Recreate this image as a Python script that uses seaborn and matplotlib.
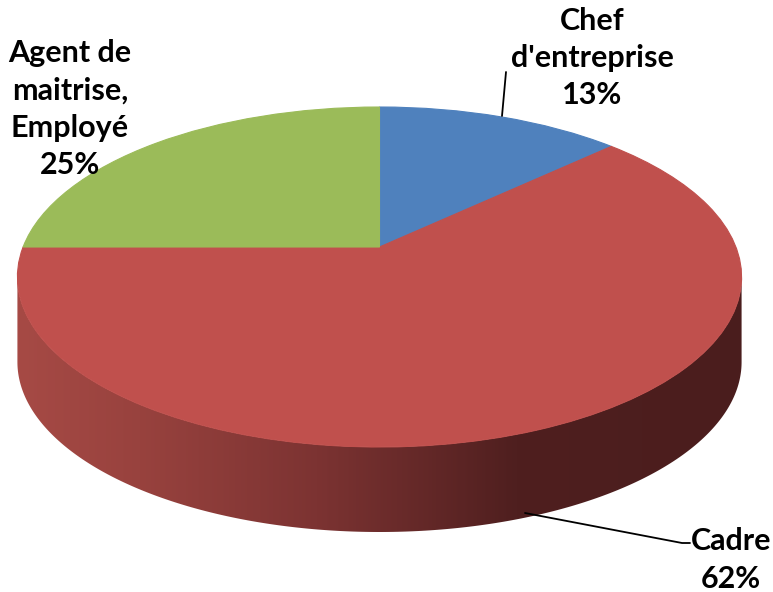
import numpy as np
import matplotlib.pyplot as plt
import seaborn as sns
from matplotlib.patches import Polygon
from matplotlib.lines import Line2D
from matplotlib.transforms import Transform
from matplotlib.colors import LinearSegmentedColormap

# Data
labels = ["Chef\nd'entreprise", "Cadre", "Agent de\nmaitrise,\nEmployé"]
shares = [13, 62, 25]
colors = ["#4F81BD", "#C0504D", "#9BBB59"]

W, H = 773, 592

sns.set_theme(style="white")
plt.rcParams['font.family'] = ['Lato', 'DejaVu Sans']

fig = plt.figure(figsize=(W / 100, H / 100), dpi=100)

# back axes in pixel coords for the side of the "3D" pie
back = fig.add_axes([0, 0, 1, 1], zorder=0)
back.set_xlim(0, W)
back.set_ylim(H, 0)
back.axis('off')

# front axes for the top of the pie
ax = fig.add_axes([0, 0, 1, 1], zorder=1)
ax.patch.set_visible(False)

# tilt + perspective of the disc
c, B, y0, a, x0 = 0.1765, 164.7, 247, 356.4, 379.5


class Tilt(Transform):
    input_dims = output_dims = 2

    def transform_non_affine(self, xy):
        xy = np.asarray(xy, dtype=float)
        return xy / (1 + c * xy[:, 1:2])


wedges, _ = ax.pie(shares, colors=colors, startangle=90, counterclock=False,
                   radius=1, center=(0, 0),
                   wedgeprops=dict(linewidth=0.8))
ax.set_aspect('auto')
ax.set_xlim(-x0 / a, (W - x0) / a)
ax.set_ylim(-(H - y0) / B, y0 / B)
ax.axis('off')

tilt = Tilt() + ax.transData
for w in wedges:
    w.set_edgecolor(w.get_facecolor())
    w.set_transform(tilt)

# side of the pie: visible front rim of the top, pushed down by the depth
depth = 85
s = np.arcsin(c)
t = np.linspace(np.pi + s, 2 * np.pi - s, 300)
rim = tilt.transform(np.column_stack([np.cos(t), np.sin(t)]))
rim[:, 1] = H - rim[:, 1]
side = np.vstack([rim, rim[::-1] + [0, depth]])
clip = Polygon(side, closed=True, facecolor='none', edgecolor='none',
               transform=back.transData)
back.add_patch(clip)

side_cmap = LinearSegmentedColormap.from_list(
    'side', [(0.0, '#A84B46'), (0.18, '#98423E'), (0.41, '#7C3332'),
             (0.67, '#4F1F1F'), (1.0, '#4A1D1D')])
grad = np.linspace(0, 1, 400)[None, :]
img = back.imshow(grad, cmap=side_cmap, aspect='auto', extent=(0, W, H, 0),
                  interpolation='bilinear')
img.set_clip_path(clip)


def px(x, y):
    return x / W, 1 - y / H


# labels
label_pos = [(592, 58), (731, 560), (70, 109)]
for lab, share, (lx, ly) in zip(labels, shares, label_pos):
    fig.text(*px(lx, ly), f"{lab}\n{share}%", ha='center', va='center',
             multialignment='center', fontsize=22, fontweight='bold',
             color='black', linespacing=1.4)

# leader lines
for xs, ys in [([502, 506], [116, 72]), ([525, 682, 690], [513, 543, 543])]:
    fx = [x / W for x in xs]
    fy = [1 - y / H for y in ys]
    fig.add_artist(Line2D(fx, fy, color='black', linewidth=1.3,
                          transform=fig.transFigure))

fig.savefig('out.png', dpi=100, facecolor='white')
